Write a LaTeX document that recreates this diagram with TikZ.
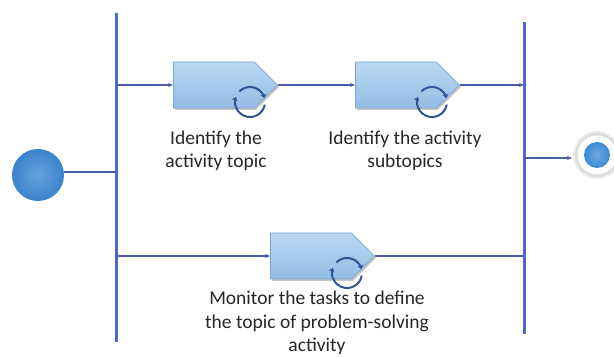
\documentclass[tikz,border=0pt]{standalone}
\usepackage{fontspec}
\setmainfont{Carlito}
\usetikzlibrary{shapes.symbols,shadows,arrows.meta,calc}
\definecolor{barblue}{HTML}{4F6CC4}
\definecolor{lineblue}{HTML}{4A5BA8}
\definecolor{boxedge}{HTML}{7FA5D2}
\definecolor{boxtop}{HTML}{BBD8F2}
\definecolor{boxbot}{HTML}{93BCE5}
\definecolor{loopblue}{HTML}{2F5597}
\definecolor{dotblue}{HTML}{3D8BD6}
\definecolor{txt}{HTML}{262626}
\tikzset{
  bar/.style={barblue, line width=3pt},
  flow/.style={lineblue, line width=1.2pt, -{Stealth[length=5pt,width=4pt]}},
  plainflow/.style={lineblue, line width=1.2pt},
  actbox/.style={signal, signal to=east, signal pointer angle=90, anchor=west,
    minimum width=104pt, minimum height=46pt, inner sep=0pt,
    top color=boxtop, bottom color=boxbot, draw=boxedge, line width=0.8pt,
    drop shadow={shadow xshift=1.5pt, shadow yshift=-2pt, fill=gray, opacity=0.45}},
  lbl/.style={text=txt, align=center, font=\fontsize{19.5}{23.5}\selectfont},
  loopicon/.style={loopblue, line width=2pt}
}
% circular "loop" mark on the lower right of an activity
\newcommand{\loopmark}[1]{%
  \draw[loopicon, -{Stealth[length=4pt,width=6pt]}] ($(#1.west)+(77,17)$) ++(10:15) arc[start angle=10, end angle=200, radius=15];
  \draw[loopicon, -{Stealth[length=4pt,width=6pt]}] ($(#1.west)+(77,17)$) ++(225:15) arc[start angle=225, end angle=345, radius=15];
}
\begin{document}
\begin{tikzpicture}[x=1pt, y=-1pt]
\useasboundingbox (0,0) rectangle (614,358);

% swimlane bars (fork and join)
\coordinate (ltop) at (116,13);
\coordinate (lbot) at (116,342);
\coordinate (rtop) at (524,22);
\coordinate (rbot) at (524,334);
\draw[bar] (ltop) -- (lbot);
\draw[bar] (rtop) -- (rbot);

% initial node
\shade[inner color=dotblue!80!white, outer color=dotblue!95!black] (38,175) circle[radius=26];
\node[circle, minimum size=52pt, inner sep=0pt] (start) at (38,175) {};

% final node with its soft halo
\fill[gray!15] (597,155) circle[radius=24];
\fill[gray!28] (597,155) circle[radius=22];
\fill[white] (597,155) circle[radius=19.5];
\shade[inner color=dotblue!75!white, outer color=dotblue] (597,155) circle[radius=13];
\node[circle, minimum size=46pt, inner sep=0pt] (final) at (597,155) {};

% activities
\node[actbox] (a1) at (173,85) {};
\node[actbox] (a2) at (355,85) {};
\node[actbox] (a3) at (270,256) {};
\loopmark{a1}
\loopmark{a2}
\loopmark{a3}

% connection points on the bars
\coordinate (lin)  at (116,172);
\coordinate (l1)   at (116,85);
\coordinate (l3)   at (116,256);
\coordinate (r1)   at (524,85);
\coordinate (r3)   at (524,256);
\coordinate (rout) at (524,158);
\coordinate (fin)  at (572,158);

\draw[plainflow] (start.east |- lin) -- (lin);
\draw[flow] (l1) -- (a1.west);
\draw[flow] (a1.east) -- (a2.west);
\draw[flow] (a2.east) -- (r1);
\draw[flow] (l3) -- (a3.west);
\draw[plainflow] (a3.east) -- (r3);
\draw[flow] (rout) -- (fin);

% labels
\node[lbl] (t1) at (216,151) {Identify the\\activity topic};
\node[lbl] (t2) at (405,151) {Identify the activity\\subtopics};
\node[lbl] (t3) at (317,323) {Monitor the tasks to define\\the topic of problem-solving\\activity};
\end{tikzpicture}
\end{document}
